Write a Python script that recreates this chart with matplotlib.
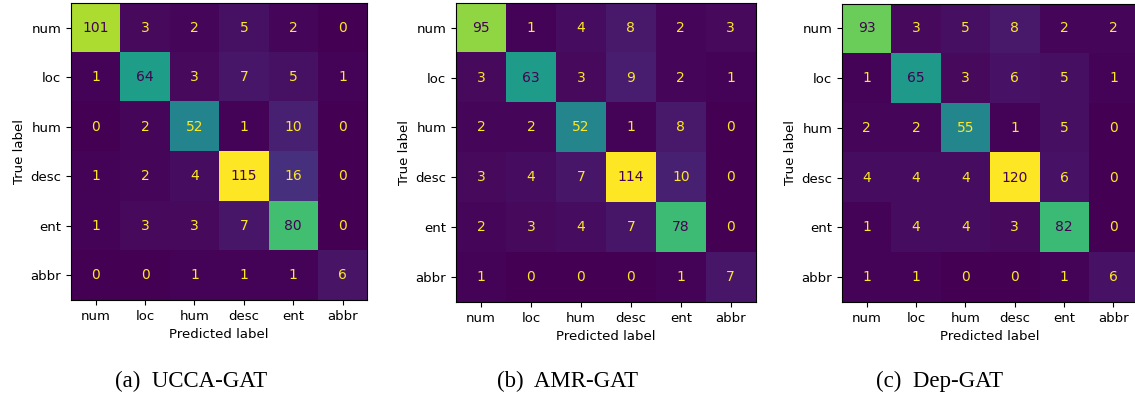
import matplotlib
matplotlib.use("Agg")
import matplotlib.pyplot as plt
import numpy as np

labels = ["num", "loc", "hum", "desc", "ent", "abbr"]

ucca_gat = [[101, 3, 2, 5, 2, 0],
            [1, 64, 3, 7, 5, 1],
            [0, 2, 52, 1, 10, 0],
            [1, 2, 4, 115, 16, 0],
            [1, 3, 3, 7, 80, 0],
            [0, 0, 1, 1, 1, 6]]

amr_gat = [[95, 1, 4, 8, 2, 3],
           [3, 63, 3, 9, 2, 1],
           [2, 2, 52, 1, 8, 0],
           [3, 4, 7, 114, 10, 0],
           [2, 3, 4, 7, 78, 0],
           [1, 0, 0, 0, 1, 7]]

dep_gat = [[93, 3, 5, 8, 2, 2],
           [1, 65, 3, 6, 5, 1],
           [2, 2, 55, 1, 5, 0],
           [4, 4, 4, 120, 6, 0],
           [1, 4, 4, 3, 82, 0],
           [1, 1, 0, 0, 1, 6]]

captions = ["(a)  UCCA-GAT", "(b)  AMR-GAT", "(c)  Dep-GAT"]

fig = plt.figure(figsize=(11.35, 3.99), dpi=100)
cmap = plt.get_cmap("viridis")
fontsize = 9.5

# axes boxes in figure fraction: left, bottom, width, height
boxes = [(0.0626, 0.248, 0.261, 0.745),
         (0.4018, 0.243, 0.264, 0.750),
         (0.7418, 0.243, 0.261, 0.748)]
caption_x = [0.168, 0.5, 0.828]

for cm, box, cap, cx in zip([ucca_gat, amr_gat, dep_gat], boxes, captions, caption_x):
    cm = np.asarray(cm)
    ax = fig.add_axes(box)
    ax.imshow(cm, cmap=cmap, interpolation="nearest", aspect="auto")
    thresh = (cm.max() + cm.min()) / 2.0
    for i in range(cm.shape[0]):
        for j in range(cm.shape[1]):
            color = cmap(0.0) if cm[i, j] >= thresh else cmap(1.0)
            ax.text(j, i, str(cm[i, j]), ha="center", va="center",
                    color=color, fontsize=fontsize + 0.5)
    ax.set_xticks(range(len(labels)))
    ax.set_yticks(range(len(labels)))
    ax.set_xticklabels(labels, fontsize=fontsize)
    ax.set_yticklabels(labels, fontsize=fontsize)
    ax.set_xlabel("Predicted label", fontsize=fontsize, labelpad=4)
    ax.set_ylabel("True label", fontsize=fontsize, labelpad=3)
    for s in ax.spines.values():
        s.set_linewidth(0.8)
    fig.text(cx, 0.045, cap, ha="center", va="center",
             family="Liberation Serif", fontsize=16.5)

plt.savefig("out.png", dpi=100)
